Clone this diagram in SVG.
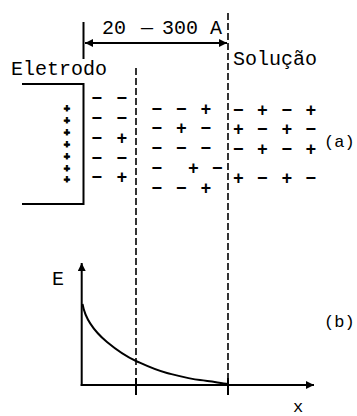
<svg xmlns="http://www.w3.org/2000/svg" width="357" height="416" viewBox="0 0 357 416">
<style>
.t{font-family:"Liberation Mono",monospace;font-size:20px;fill:#000}
.l{font-family:"Liberation Mono",monospace;font-size:17px;fill:#000}
.s{font-family:"Liberation Mono",monospace;font-size:18px;font-weight:bold;fill:#000;text-anchor:middle}
.p{font-family:"Liberation Mono",monospace;font-size:10.5px;font-weight:bold;fill:#000;stroke:#000;stroke-width:0.9;text-anchor:middle}
.ln{stroke:#000;stroke-width:2;fill:none}
.d{stroke:#000;stroke-width:1.6;fill:none;stroke-dasharray:7 3}
</style>
<defs>
<marker id="ah" viewBox="0 0 10 10" refX="10" refY="5" markerWidth="8" markerHeight="8" markerUnits="userSpaceOnUse" orient="auto-start-reverse">
<path d="M0,0 L10,5 L0,10 Z" fill="#000"/>
</marker>
</defs>
<rect width="357" height="416" fill="#fff"/>

<g id="electrode">
<path class="ln" d="M22,84 H83.5 V204 H22"/>
<text class="t" x="11" y="75">Eletrodo</text>
</g>

<g id="width-label">
<line class="ln" x1="83.5" y1="22" x2="83.5" y2="59"/>
<text class="t" x="102" y="34">20<tspan x="141">—</tspan><tspan x="162">300 A</tspan></text>
</g>

<g id="solution">
<text class="t" x="233" y="65">Solução</text>
</g>

<g id="connectors">
<line class="ln" x1="85" y1="43" x2="227" y2="43" marker-start="url(#ah)" marker-end="url(#ah)" stroke-width="1.8"/>
<line class="d" x1="228" y1="13" x2="228" y2="395"/>
<line class="d" x1="136" y1="68" x2="136" y2="395"/>
</g>

<g id="charges">
<g id="electrode-charges">
<text class="p" x="67" y="112.3">+</text>
<text class="p" x="67" y="124">+</text>
<text class="p" x="67" y="135.7">+</text>
<text class="p" x="67" y="147.5">+</text>
<text class="p" x="67" y="159.8">+</text>
<text class="p" x="67" y="171.5">+</text>
<text class="p" x="67" y="183.2">+</text>
</g>
<g id="compact-layer">
<text class="s" x="97" y="104">−</text><text class="s" x="122" y="104">−</text>
<text class="s" x="97" y="124">−</text><text class="s" x="122" y="124">−</text>
<text class="s" x="97" y="144">−</text><text class="s" x="122" y="144">+</text>
<text class="s" x="97" y="163.5">−</text><text class="s" x="122" y="163.5">−</text>
<text class="s" x="97" y="183">−</text><text class="s" x="122" y="183">+</text>
</g>
<g id="diffuse-layer">
<text class="s" x="157" y="114.5">−</text><text class="s" x="181.5" y="114.5">−</text><text class="s" x="206" y="114.5">+</text>
<text class="s" x="157" y="134">−</text><text class="s" x="181.5" y="134">+</text><text class="s" x="206" y="134">−</text>
<text class="s" x="157" y="153.5">−</text><text class="s" x="181.5" y="153.5">−</text><text class="s" x="206" y="153.5">−</text>
<text class="s" x="157" y="173.5">−</text><text class="s" x="193.5" y="173.5">+</text><text class="s" x="217.5" y="173.5">−</text>
<text class="s" x="157" y="194">−</text><text class="s" x="181.5" y="194">−</text><text class="s" x="206" y="194">+</text>
</g>
<g id="solution-charges">
<text class="s" x="238.5" y="115.5">−</text><text class="s" x="262.5" y="115.5">+</text><text class="s" x="287" y="115.5">−</text><text class="s" x="311" y="115.5">+</text>
<text class="s" x="238.5" y="135">+</text><text class="s" x="262.5" y="135">−</text><text class="s" x="287" y="135">+</text><text class="s" x="311" y="135">−</text>
<text class="s" x="238.5" y="154.5">−</text><text class="s" x="262.5" y="154.5">+</text><text class="s" x="287" y="154.5">−</text><text class="s" x="311" y="154.5">+</text>
<text class="s" x="238.5" y="183.5">+</text><text class="s" x="262.5" y="183.5">−</text><text class="s" x="287" y="183.5">+</text><text class="s" x="311" y="183.5">−</text>
</g>
</g>

<g id="label-a">
<text class="l" x="324" y="147">(a)</text>
</g>

<g id="graph">
<line class="ln" x1="81.7" y1="386" x2="81.7" y2="263" marker-end="url(#ah)"/>
<line class="ln" x1="80.7" y1="385" x2="314" y2="385" marker-end="url(#ah)"/>
<line class="ln" x1="136" y1="378" x2="136" y2="395" stroke-width="1.6"/>
<line class="ln" x1="228" y1="378" x2="228" y2="395" stroke-width="1.6"/>
<path class="ln" stroke-width="1.6" d="M82.5,304 C85,318 95,332 107,342 S125,356 136,361 S155,370 167,373 S190,379 200,380 S220,383 228,384"/>
<text class="t" x="52" y="285">E</text>
<text class="l" x="293" y="412">x</text>
</g>

<g id="label-b">
<text class="l" x="324" y="327">(b)</text>
</g>
</svg>
